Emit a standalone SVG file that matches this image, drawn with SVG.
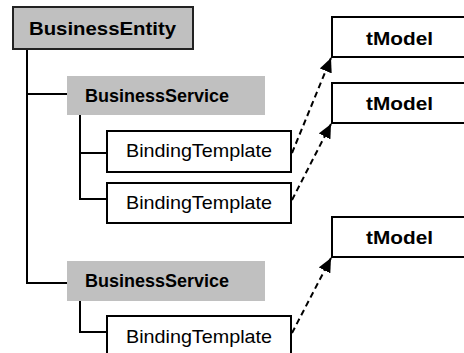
<svg xmlns="http://www.w3.org/2000/svg" width="464" height="353" viewBox="0 0 464 353">
  <style>
    .lbl { font-family: "Liberation Sans", Arial, sans-serif; font-size: 18.5px; fill: #000; }
    .bold { font-weight: bold; font-size: 19px; }
    .entity { fill: #c0c0c0; stroke: #222; stroke-width: 2; }
    .service { fill: #c0c0c0; stroke: none; }
    .box { fill: #fff; stroke: #000; stroke-width: 2; }
    .tree { fill: none; stroke: #000; stroke-width: 2; }
    .ref { fill: none; stroke: #000; stroke-width: 2; stroke-dasharray: 6 4; marker-end: url(#head); }
  </style>
  <defs>
    <marker id="head" markerUnits="userSpaceOnUse" markerWidth="15" markerHeight="13" refX="14" refY="6.5" orient="auto">
      <path d="M0,0 L14,6.5 L0,13 z" fill="#000"/>
    </marker>
  </defs>

  <rect width="464" height="353" fill="#fff"/>

  <!-- tree and reference connectors -->
  <g id="connectors">
    <path class="tree" d="M27,49 V283 H67"/>
    <path class="tree" d="M27,94 H67"/>
    <path class="tree" d="M80,115 V199 H107"/>
    <path class="tree" d="M80,153 H107"/>
    <path class="tree" d="M80,301 V332 H107"/>
    <line class="ref" x1="292" y1="153" x2="331" y2="58"/>
    <line class="ref" x1="292" y1="200" x2="331" y2="124"/>
    <line class="ref" x1="292" y1="333" x2="331" y2="258"/>
  </g>

  <g id="businessEntity">
    <rect class="entity" x="13" y="7" width="180" height="42"/>
    <text class="lbl bold" x="29" y="35" textLength="147" lengthAdjust="spacingAndGlyphs">BusinessEntity</text>
  </g>

  <g id="businessService1">
    <rect class="service" x="67" y="76" width="198" height="39"/>
    <text class="lbl bold" x="85" y="102" textLength="144" lengthAdjust="spacingAndGlyphs">BusinessService</text>
  </g>

  <g id="bindingTemplate1">
    <rect class="box" x="107" y="131" width="184" height="41"/>
    <text class="lbl" x="126" y="157" textLength="146" lengthAdjust="spacingAndGlyphs">BindingTemplate</text>
  </g>

  <g id="bindingTemplate2">
    <rect class="box" x="107" y="183" width="184" height="40"/>
    <text class="lbl" x="126" y="209" textLength="146" lengthAdjust="spacingAndGlyphs">BindingTemplate</text>
  </g>

  <g id="businessService2">
    <rect class="service" x="67" y="261" width="198" height="40"/>
    <text class="lbl bold" x="85" y="287" textLength="144" lengthAdjust="spacingAndGlyphs">BusinessService</text>
  </g>

  <g id="bindingTemplate3">
    <rect class="box" x="107" y="316" width="184" height="50"/>
    <text class="lbl" x="126" y="343" textLength="146" lengthAdjust="spacingAndGlyphs">BindingTemplate</text>
  </g>

  <g id="tModel1">
    <rect class="box" x="332" y="17" width="140" height="40"/>
    <text class="lbl bold" x="366" y="45" textLength="67" lengthAdjust="spacingAndGlyphs">tModel</text>
  </g>

  <g id="tModel2">
    <rect class="box" x="332" y="83" width="140" height="40"/>
    <text class="lbl bold" x="366" y="110" textLength="67" lengthAdjust="spacingAndGlyphs">tModel</text>
  </g>

  <g id="tModel3">
    <rect class="box" x="332" y="217" width="140" height="40"/>
    <text class="lbl bold" x="366" y="244" textLength="67" lengthAdjust="spacingAndGlyphs">tModel</text>
  </g>
</svg>
